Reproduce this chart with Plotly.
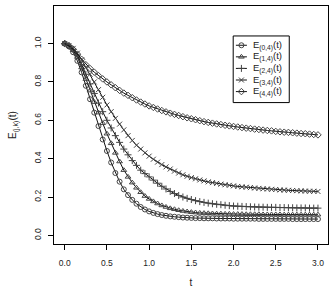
import plotly.graph_objects as go

t = [round(i * 0.05, 2) for i in range(61)]

e04 = [1.000, 0.985, 0.955, 0.910, 0.850, 0.780, 0.710, 0.640, 0.570, 0.500,
       0.440, 0.380, 0.325, 0.280, 0.240, 0.210, 0.185, 0.165, 0.148, 0.135,
       0.125, 0.117, 0.111, 0.106, 0.102, 0.099, 0.097, 0.095, 0.093, 0.092,
       0.091, 0.090, 0.090, 0.089, 0.089, 0.089, 0.088, 0.088, 0.088, 0.088,
       0.087, 0.087, 0.087, 0.087, 0.087, 0.087, 0.086, 0.086, 0.086, 0.086,
       0.086, 0.086, 0.086, 0.086, 0.085, 0.085, 0.085, 0.085, 0.085, 0.085,
       0.085]
e14 = [1.000, 0.988, 0.965, 0.930, 0.875, 0.815, 0.755, 0.695, 0.640, 0.585,
       0.530, 0.480, 0.430, 0.385, 0.340, 0.305, 0.275, 0.248, 0.225, 0.205,
       0.190, 0.177, 0.166, 0.156, 0.148, 0.141, 0.136, 0.131, 0.127, 0.124,
       0.121, 0.119, 0.117, 0.116, 0.115, 0.114, 0.113, 0.113, 0.112, 0.112,
       0.111, 0.111, 0.111, 0.110, 0.110, 0.110, 0.110, 0.109, 0.109, 0.109,
       0.109, 0.109, 0.108, 0.108, 0.108, 0.108, 0.108, 0.108, 0.108, 0.108,
       0.108]
e24 = [1.000, 0.990, 0.970, 0.940, 0.890, 0.840, 0.790, 0.740, 0.690, 0.645,
       0.600, 0.560, 0.520, 0.485, 0.450, 0.420, 0.390, 0.365, 0.340, 0.322,
       0.305, 0.288, 0.272, 0.256, 0.242, 0.229, 0.218, 0.208, 0.200, 0.193,
       0.187, 0.181, 0.176, 0.172, 0.168, 0.165, 0.162, 0.160, 0.157, 0.155,
       0.153, 0.152, 0.151, 0.150, 0.149, 0.148, 0.147, 0.147, 0.146, 0.146,
       0.146, 0.145, 0.145, 0.144, 0.144, 0.143, 0.143, 0.143, 0.142, 0.142,
       0.142]
e34 = [1.000, 0.990, 0.975, 0.950, 0.915, 0.875, 0.840, 0.800, 0.760, 0.720,
       0.680, 0.645, 0.610, 0.580, 0.550, 0.520, 0.495, 0.470, 0.450, 0.430,
       0.413, 0.397, 0.382, 0.369, 0.357, 0.346, 0.335, 0.325, 0.316, 0.308,
       0.301, 0.295, 0.289, 0.284, 0.279, 0.275, 0.271, 0.267, 0.264, 0.261,
       0.258, 0.255, 0.253, 0.251, 0.249, 0.247, 0.245, 0.243, 0.242, 0.240,
       0.239, 0.237, 0.236, 0.235, 0.234, 0.233, 0.232, 0.231, 0.230, 0.230,
       0.229]
e44 = [1.000, 0.988, 0.970, 0.945, 0.918, 0.890, 0.870, 0.851, 0.833, 0.816,
       0.800, 0.785, 0.770, 0.756, 0.742, 0.730, 0.718, 0.706, 0.695, 0.685,
       0.675, 0.667, 0.659, 0.651, 0.644, 0.637, 0.631, 0.625, 0.619, 0.613,
       0.608, 0.603, 0.598, 0.593, 0.589, 0.585, 0.581, 0.578, 0.574, 0.571,
       0.568, 0.565, 0.562, 0.559, 0.557, 0.554, 0.552, 0.549, 0.547, 0.545,
       0.542, 0.540, 0.538, 0.537, 0.535, 0.533, 0.531, 0.530, 0.528, 0.526,
       0.524]

names = ["E<sub>(0,4)</sub>(t)", "E<sub>(1,4)</sub>(t)", "E<sub>(2,4)</sub>(t)",
         "E<sub>(3,4)</sub>(t)", "E<sub>(4,4)</sub>(t)"]
values = [e04, e14, e24, e34, e44]
symbols = ["circle-open", "triangle-up-open", "cross-thin-open",
           "x-thin-open", "diamond-open"]

x_ticks = [0.0, 0.5, 1.0, 1.5, 2.0, 2.5, 3.0]
y_ticks = [0.0, 0.2, 0.4, 0.6, 0.8, 1.0]

LINE_C = "#111111"
MARK_C = "#444444"
TXT_C = "#222222"
font = "Liberation Sans, Arial, sans-serif"

fig = go.Figure()
for name, vals, sym in zip(names, values, symbols):
    fig.add_trace(go.Scatter(
        x=t, y=vals, name=name, mode="lines+markers",
        line=dict(color=LINE_C, width=1),
        marker=dict(symbol=sym, size=5, color=MARK_C,
                    line=dict(color=MARK_C, width=1)),
        showlegend=False,
    ))

# ---- hand-built legend ----
# plot area in px: left 54.3, right 328, top 6, bottom 244.3
PL, PR, PT, PB = 54.3, 328.0, 6.0, 244.3
def px_x(p):
    return (p - PL) / (PR - PL)
def px_y(p):
    return (PB - p) / (PB - PT)

box_l, box_r, box_t, box_b = 233.3, 289.3, 36.0, 102.7
row_y = [45.3, 56.9, 68.5, 80.1, 91.7]
seg_l, seg_r, txt_x = 236.0, 247.0, 251.0

fig.add_shape(type="rect", xref="paper", yref="paper",
              x0=px_x(box_l), x1=px_x(box_r), y0=px_y(box_b), y1=px_y(box_t),
              line=dict(color="black", width=1), fillcolor="white", layer="below")

for i, (name, sym) in enumerate(zip(names, symbols)):
    yy = px_y(row_y[i])
    fig.add_shape(type="line", xref="paper", yref="paper",
                  x0=px_x(seg_l), x1=px_x(seg_r), y0=yy, y1=yy,
                  line=dict(color=LINE_C, width=1), layer="below")
    fig.add_annotation(x=px_x(txt_x), y=yy, xref="paper", yref="paper",
                       text=name, showarrow=False, xanchor="left", yanchor="middle",
                       font=dict(family=font, size=9.5, color=TXT_C))

fig.add_trace(go.Scatter(
    x=[(seg_l + seg_r) / 2 - PL] * len(names),
    y=[PB - r for r in row_y],
    xaxis="x2", yaxis="y2", mode="markers", showlegend=False,
    marker=dict(symbol=symbols, size=5, color=MARK_C,
                line=dict(color=MARK_C, width=1)),
    hoverinfo="skip",
))

axis_common = dict(
    showline=True, mirror=True, linecolor="black", linewidth=1,
    ticks="outside", ticklen=5, tickcolor="black", tickwidth=1,
    showgrid=False, zeroline=False,
    tickfont=dict(family=font, size=8.5, color=TXT_C),
)
fig.update_layout(
    width=335, height=292,
    margin=dict(l=PL, r=335 - PR, t=PT, b=292 - PB),
    paper_bgcolor="white", plot_bgcolor="white",
    font=dict(family=font, color=TXT_C),
    showlegend=False,
    xaxis=dict(range=[-0.127, 3.119], tickvals=x_ticks,
               ticktext=[f"{v:.1f}" for v in x_ticks], ticklabelstandoff=6,
               title=dict(text="t", font=dict(family=font, size=10, color=TXT_C),
                          standoff=11),
               **axis_common),
    yaxis=dict(range=[-0.045, 1.196], tickvals=y_ticks,
               ticktext=[f"{v:.1f}" for v in y_ticks], tickangle=-90,
               ticklabelstandoff=4,
               title=dict(text="E<sub>(j,k)</sub>(t)",
                          font=dict(family=font, size=10, color=TXT_C),
                          standoff=14),
               **axis_common),
    xaxis2=dict(overlaying="x", range=[0, PR - PL], visible=False, fixedrange=True),
    yaxis2=dict(overlaying="y", range=[0, PB - PT], visible=False, fixedrange=True),
)

fig.write_html("out.html")
